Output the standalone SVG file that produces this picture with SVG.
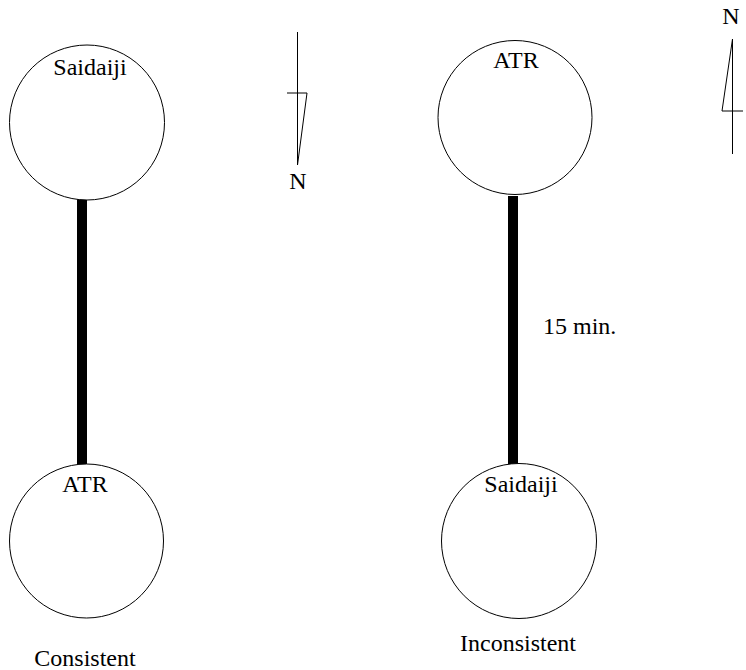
<svg xmlns="http://www.w3.org/2000/svg" width="746" height="670" viewBox="0 0 746 670">
  <style>
    .stop { fill: #fff; stroke: #000; stroke-width: 1; }
    .lbl { font-family: 'Liberation Serif', 'DejaVu Serif', serif; font-size: 24px; fill: #000; text-anchor: middle; }
    .link { stroke: #000; stroke-width: 10; fill: none; }
    .thin { stroke: #000; stroke-width: 1; fill: none; }
  </style>

  <!-- links between stations -->
  <g id="connectors">
    <line class="link" x1="82" y1="198" x2="82" y2="465"/>
    <line class="link" x1="513" y1="196" x2="513" y2="465"/>
  </g>

  <!-- left pair: consistent orientation -->
  <g id="left-saidaiji">
    <circle class="stop" cx="87" cy="122.5" r="77.5"/>
    <text class="lbl" x="90" y="75">Saidaiji</text>
  </g>
  <g id="left-atr">
    <circle class="stop" cx="86.5" cy="541" r="77"/>
    <text class="lbl" x="85" y="492">ATR</text>
  </g>
  <text class="lbl" x="85" y="666">Consistent</text>

  <!-- left north arrow (pointing down) -->
  <g id="north-left">
    <line class="thin" x1="297.5" y1="32" x2="297.5" y2="165"/>
    <polyline class="thin" points="287,93 307,93 297.5,165"/>
    <text class="lbl" x="298" y="189">N</text>
  </g>

  <!-- right pair: inconsistent orientation -->
  <g id="right-atr">
    <circle class="stop" cx="515" cy="117.5" r="77"/>
    <text class="lbl" x="516" y="68">ATR</text>
  </g>
  <g id="right-saidaiji">
    <circle class="stop" cx="519" cy="541" r="77.5"/>
    <text class="lbl" x="521" y="492">Saidaiji</text>
  </g>
  <text class="lbl" x="518" y="651">Inconsistent</text>
  <text class="lbl" x="543" y="334" style="text-anchor:start">15 min.</text>

  <!-- right north arrow (pointing up) -->
  <g id="north-right">
    <line class="thin" x1="732.5" y1="39" x2="732.5" y2="154"/>
    <polyline class="thin" points="743,111 722,111 732.5,39"/>
    <text class="lbl" x="731" y="24">N</text>
  </g>
</svg>
